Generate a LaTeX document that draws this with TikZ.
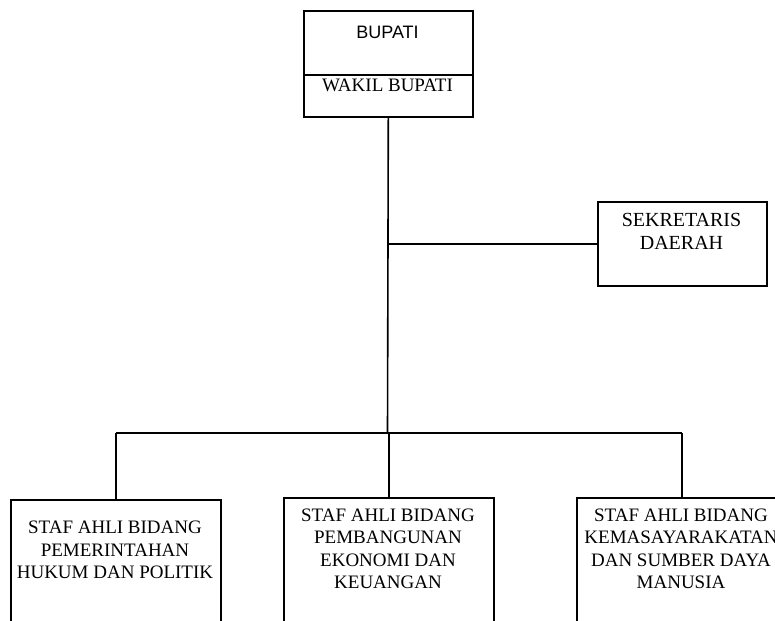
\documentclass[tikz,border=0pt]{standalone}
\usepackage{fontspec}
\setmainfont{Liberation Serif}
\newfontfamily\sansf{Liberation Sans}
\begin{document}
\begin{tikzpicture}[x=1pt,y=-1pt,
  box/.style={draw,line width=1.6pt,inner sep=0pt,anchor=north west},
  lbl/.style={align=center,inner sep=0pt,font=\fontsize{19}{22.5}\selectfont},
  conn/.style={line width=1.6pt}]
\useasboundingbox (0,0) rectangle (775,620);
\fill[white] (0,0) rectangle (775,620);
\clip (0,0) rectangle (775,620);
% boxes
\node[box,minimum width=169pt,minimum height=64pt] (bupati) at (303,10) {};
\node[box,minimum width=169pt,minimum height=42pt] (wakil) at (303,74) {};
\node[box,minimum width=169pt,minimum height=84pt] (sek) at (597,201) {};
\node[box,minimum width=210pt,minimum height=140pt] (left) at (10,499) {};
\node[box,minimum width=210pt,minimum height=140pt] (mid) at (283,497) {};
\node[box,minimum width=210pt,minimum height=140pt] (right) at (576,497) {};
% texts
\node[lbl,font=\sansf\fontsize{18}{20}\selectfont] (tb) at (387.5,32) {BUPATI};
\node[lbl,font=\fontsize{19}{20}\selectfont] (tw) at (387.5,85) {WAKIL BUPATI};
\node[lbl,font=\fontsize{20}{23}\selectfont] (ts) at (681.5,231) {SEKRETARIS\\DAERAH};
\node[lbl] (tl) at (115,550) {STAF AHLI BIDANG\\PEMERINTAHAN\\HUKUM DAN POLITIK};
\node[lbl] (tm) at (388,549) {STAF AHLI BIDANG\\PEMBANGUNAN\\EKONOMI DAN\\KEUANGAN};
\node[lbl] (tr) at (681,549) {STAF AHLI BIDANG\\KEMASAYARAKATAN\\DAN SUMBER DAYA\\MANUSIA};
% connectors
\coordinate (bar) at (387.5,433);
\coordinate (sekj) at (wakil.south |- sek.west);
\draw[conn] (wakil.south) -- (bar);
\draw[conn] (sekj) -- (sek.west);
\draw[conn] (left.north |- bar) -- (right.north |- bar);
\draw[conn] (left.north |- bar) -- (left.north);
\draw[conn] (mid.north |- bar) -- (mid.north);
\draw[conn] (right.north |- bar) -- (right.north);
\end{tikzpicture}
\end{document}
